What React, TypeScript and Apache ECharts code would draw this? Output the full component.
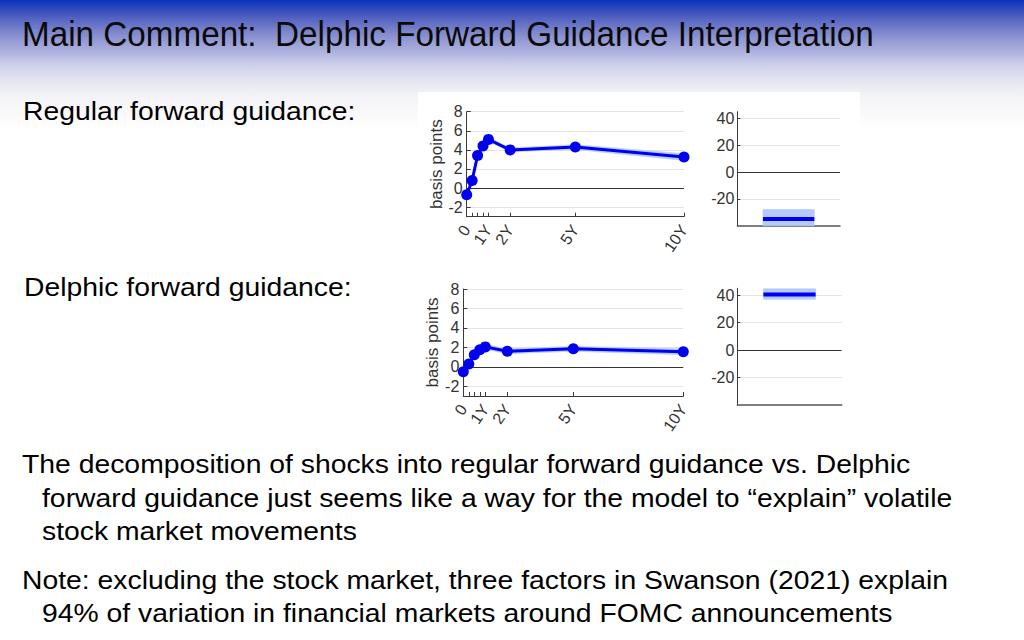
import React, { useEffect, useRef } from 'react';
import * as echarts from 'echarts';

// ---- data ----
const maturities = [0, 0.25, 0.5, 0.75, 1, 2, 5, 10];
const xTickValues = [0, 0.25, 0.5, 0.75, 1, 2, 5, 10];
const xLabelValues = [0, 1, 2, 5, 10];
const xLabelText = ['0', '1Y', '2Y', '5Y', '10Y'];

const regularYield = [-0.7, 0.8, 3.4, 4.4, 5.1, 4.0, 4.3, 3.25];
const regularLower = [-0.9, 0.6, 3.2, 4.2, 4.9, 3.8, 4.05, 2.9];
const regularUpper = [-0.5, 1.0, 3.6, 4.6, 5.3, 4.2, 4.55, 3.6];

const delphicYield = [-0.5, 0.3, 1.25, 1.75, 2.05, 1.6, 1.85, 1.55];
const delphicLower = [-0.7, 0.1, 1.05, 1.5, 1.8, 1.35, 1.6, 1.25];
const delphicUpper = [-0.3, 0.5, 1.45, 2.0, 2.3, 1.85, 2.1, 1.85];

const stockX = [1, 3];
const regularStock = [-35, -35];
const regularStockLower = [-40, -40];
const regularStockUpper = [-28, -28];
const delphicStock = [40.5, 40.5];
const delphicStockLower = [37, 37];
const delphicStockUpper = [44.6, 44.6];

const stockGridValues = [40, 20, -20];
const stockLabelValues = [-20, 0, 20, 40];

const titleText = 'Main Comment:  Delphic Forward Guidance Interpretation';
const bodyLines = [
  { text: 'Regular forward guidance:', x: 23, y: 111 },
  { text: 'Delphic forward guidance:', x: 24, y: 287 },
  { text: 'The decomposition of shocks into regular forward guidance vs. Delphic', x: 22, y: 464 },
  { text: 'forward guidance just seems like a way for the model to \u201cexplain\u201d volatile', x: 42, y: 498 },
  { text: 'stock market movements', x: 42, y: 531 },
  { text: 'Note: excluding the stock market, three factors in Swanson (2021) explain', x: 22, y: 580 },
  { text: '94% of variation in financial markets around FOMC announcements', x: 42, y: 613 },
];

const BLUE = '#0000ee';
const BAND = '#b3cafa';
const AXIS = '#3a3a3a';
const GRIDC = '#e4e4e4';
const FONT = "'Liberation Sans', Arial, sans-serif";

function pairs(xs: number[], ys: number[]) {
  return xs.map((x, i) => [x, ys[i]]);
}

function termAxes(grid: number) {
  const xAxis = {
    type: 'value', gridIndex: grid, min: 0, max: 10,
    axisLine: { show: true, onZero: false, lineStyle: { color: AXIS, width: 1 } },
    axisTick: { show: true, inside: true, length: 4, customValues: xTickValues, lineStyle: { color: AXIS } },
    axisLabel: {
      show: true, customValues: xLabelValues, rotate: 55, margin: 10,
      fontSize: 16, color: '#333', fontFamily: FONT,
      formatter: (v: number) => { const i = xLabelValues.indexOf(v); return i >= 0 ? xLabelText[i] : ''; },
    },
    splitLine: { show: false },
  };
  const yAxis = {
    type: 'value', gridIndex: grid, min: -3, max: 8, minInterval: 2, maxInterval: 2,
    axisLine: { show: true, onZero: false, lineStyle: { color: AXIS, width: 1 } },
    axisTick: { show: true, inside: true, length: 4, lineStyle: { color: AXIS } },
    axisLabel: {
      fontSize: 16, color: '#333', margin: 4, fontFamily: FONT,
      formatter: (v: number) => (v === -3 ? '' : String(v)),
    },
    splitLine: { show: true, lineStyle: { color: GRIDC, width: 1 } },
    name: 'basis points', nameLocation: 'middle', nameGap: 21,
    nameTextStyle: { fontSize: 17, color: '#333', fontFamily: FONT },
  };
  return { xAxis, yAxis };
}

function stockAxes(grid: number) {
  const xAxis = {
    type: 'value', gridIndex: grid, min: 0, max: 4,
    axisLine: { show: true, onZero: false, lineStyle: { color: '#555', width: 1.5 } },
    axisTick: { show: false }, axisLabel: { show: false }, splitLine: { show: false },
  };
  const yAxis = {
    type: 'value', gridIndex: grid, min: -40, max: 45, interval: 20,
    axisLine: { show: true, onZero: false, lineStyle: { color: AXIS, width: 1 } },
    axisTick: { show: true, inside: true, length: 3, customValues: stockLabelValues, lineStyle: { color: AXIS } },
    axisLabel: { customValues: stockLabelValues, fontSize: 16, color: '#333', margin: 3, fontFamily: FONT },
    splitLine: { show: false },
  };
  return { xAxis, yAxis };
}

function bandSeries(idx: number, xs: number[], lo: number[], hi: number[]) {
  return {
    type: 'custom', xAxisIndex: idx, yAxisIndex: idx, silent: true, z: 1,
    data: xs.map((x, i) => [x, lo[i], hi[i]]),
    encode: { x: 0, y: [1, 2] },
    renderItem: (params: any, api: any) => {
      const i = params.dataIndex;
      if (i >= xs.length - 1) return { type: 'group', children: [] };
      const pts = [
        api.coord([xs[i], hi[i]]),
        api.coord([xs[i + 1], hi[i + 1]]),
        api.coord([xs[i + 1], lo[i + 1]]),
        api.coord([xs[i], lo[i]]),
      ];
      return {
        type: 'polygon', shape: { points: pts },
        style: { fill: BAND, stroke: BAND, lineWidth: 0.6 },
      };
    },
  };
}

function termSeries(idx: number, ys: number[], lo: number[], hi: number[]) {
  return [
    bandSeries(idx, maturities, lo, hi),
    {
      type: 'line', xAxisIndex: idx, yAxisIndex: idx, data: pairs(maturities, ys),
      symbol: 'circle', symbolSize: 11, itemStyle: { color: BLUE },
      lineStyle: { color: BLUE, width: 3 }, z: 3,
      markLine: {
        silent: true, z: 2, symbol: ['none', 'none'], label: { show: false },
        lineStyle: { color: '#333', width: 1, type: 'solid' },
        data: [{ yAxis: 0 }],
      },
    },
  ];
}

function stockSeries(idx: number, ys: number[], lo: number[], hi: number[]) {
  return [
    bandSeries(idx, stockX, lo, hi),
    {
      type: 'line', xAxisIndex: idx, yAxisIndex: idx, data: pairs(stockX, ys),
      symbol: 'none', lineStyle: { color: BLUE, width: 4 }, z: 3,
      markLine: {
        silent: true, z: 0, symbol: ['none', 'none'], label: { show: false },
        data: [
          ...stockGridValues.map((v) => ({ yAxis: v, lineStyle: { color: GRIDC, width: 1, type: 'solid' } })),
          { yAxis: 0, lineStyle: { color: '#333', width: 1, type: 'solid' } },
        ],
      },
    },
  ];
}

export default function App() {
  const ref = useRef<HTMLDivElement>(null);
  useEffect(() => {
    if (!ref.current) return;
    const chart = echarts.init(ref.current, undefined, { renderer: 'svg' });
    const a0 = termAxes(0);
    const a1 = stockAxes(1);
    const a2 = termAxes(2);
    const a3 = stockAxes(3);
    const graphic: any[] = [
      { type: 'rect', z: -10, shape: { x: 0, y: 0, width: 1024, height: 640 }, style: { fill: '#ffffff' } },
      {
        type: 'rect', z: -9, shape: { x: 0, y: 0, width: 1024, height: 130 },
        style: {
          fill: new echarts.graphic.LinearGradient(0, 0, 0, 1, [
            { offset: 0, color: '#0833c4' },
            { offset: 0.03, color: '#1a3cbc' },
            { offset: 0.13, color: '#4e5fc0' },
            { offset: 0.25, color: '#8088cc' },
            { offset: 0.38, color: '#a9addc' },
            { offset: 0.51, color: '#d0d2ea' },
            { offset: 0.64, color: '#e8e8f2' },
            { offset: 0.75, color: '#f4f4f8' },
            { offset: 1, color: '#ffffff' },
          ]),
        },
      },
      { type: 'rect', z: -8, shape: { x: 418, y: 92, width: 442, height: 348 }, style: { fill: '#ffffff' } },
      {
        type: 'text', x: 22, y: 34, scaleX: 0.95, z: 5,
        style: {
          text: titleText, fill: '#0a0a0a', fontSize: 35, fontFamily: FONT,
          verticalAlign: 'middle', align: 'left',
        },
      },
      ...bodyLines.map((l) => ({
        type: 'text', x: l.x, y: l.y, scaleX: 1.09, z: 5,
        style: { text: l.text, fill: '#000000', fontSize: 26, fontFamily: FONT, verticalAlign: 'middle', align: 'left' },
      })),
    ];
    chart.setOption({
      animation: false,
      grid: [
        { left: 466.7, top: 111.7, width: 217.3, height: 105, outerBoundsMode: 'none' },
        { left: 737.3, top: 111.7, width: 102.7, height: 114, outerBoundsMode: 'none' },
        { left: 463.3, top: 289, width: 220, height: 107, outerBoundsMode: 'none' },
        { left: 737.3, top: 288.3, width: 104.4, height: 116.7, outerBoundsMode: 'none' },
      ],
      xAxis: [a0.xAxis, a1.xAxis, a2.xAxis, a3.xAxis],
      yAxis: [a0.yAxis, a1.yAxis, a2.yAxis, a3.yAxis],
      graphic,
      series: [
        ...termSeries(0, regularYield, regularLower, regularUpper),
        ...stockSeries(1, regularStock, regularStockLower, regularStockUpper),
        ...termSeries(2, delphicYield, delphicLower, delphicUpper),
        ...stockSeries(3, delphicStock, delphicStockLower, delphicStockUpper),
      ],
    });
    return () => chart.dispose();
  }, []);
  return <div ref={ref} style={{ position: 'absolute', left: 0, top: 0, width: 1024, height: 640 }} />;
}
